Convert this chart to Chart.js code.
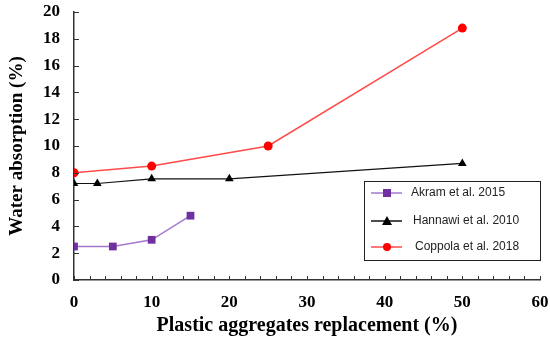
<!DOCTYPE html>
<html>
<head>
<meta charset="utf-8">
<script src="https://cdn.jsdelivr.net/npm/chart.js@4"></script>
<style>
  html, body { margin: 0; padding: 0; background: #fff; }
  #wrap { width: 550px; height: 342px; position: relative; }
</style>
</head>
<body>
<div id="wrap"><canvas id="chart"></canvas></div>
<script>
// Data
const akramX = [0, 5, 10, 15];
const akramY = [2.5, 2.5, 3.0, 4.8];
const hannawiX = [0, 3, 10, 20, 50];
const hannawiY = [7.2, 7.2, 7.55, 7.55, 8.7];
const coppolaX = [0, 10, 25, 50];
const coppolaY = [8.0, 8.5, 10.0, 18.8];
const seriesNames = ['Akram et al. 2015', 'Hannawi et al. 2010', 'Coppola et al. 2018'];

const toPoints = (xs, ys) => xs.map((x, i) => ({ x: x, y: ys[i] }));
const serif = '"Liberation Serif", "Times New Roman", serif';

// inside tick marks on both axes
const insideTicks = {
    id: 'insideTicks',
    afterDraw(chart) {
        const ctx = chart.ctx;
        const xs = chart.scales.x, ys = chart.scales.y;
        const area = chart.chartArea;
        ctx.save();
        ctx.strokeStyle = '#333';
        ctx.lineWidth = 1;
        for (let v = 0; v <= 60; v += 2) {
            const px = Math.round(xs.getPixelForValue(v)) + 0.5;
            ctx.beginPath();
            ctx.moveTo(px, area.bottom);
            ctx.lineTo(px, area.bottom - 4);
            ctx.stroke();
        }
        for (let v = 0; v <= 20; v += 2) {
            const py = Math.round(ys.getPixelForValue(v)) + 0.5;
            ctx.beginPath();
            ctx.moveTo(area.left, py);
            ctx.lineTo(area.left + 5, py);
            ctx.stroke();
        }
        ctx.restore();
    }
};

// boxed legend in the lower right of the plot
const boxLegend = {
    id: 'boxLegend',
    afterDraw(chart) {
        const ctx = chart.ctx;
        const left = 364, top = 181, w = 176, h = 79;
        ctx.save();
        ctx.fillStyle = '#fff';
        ctx.fillRect(left, top, w, h);
        ctx.strokeStyle = '#222';
        ctx.lineWidth = 1;
        ctx.strokeRect(left + 0.5, top + 0.5, w, h);
        const rows = [193, 221, 247];
        chart.data.datasets.forEach((ds, i) => {
            const y = rows[i];
            ctx.strokeStyle = ds.borderColor;
            ctx.lineWidth = 1.5;
            ctx.beginPath();
            ctx.moveTo(371, y);
            ctx.lineTo(402, y);
            ctx.stroke();
            ctx.fillStyle = ds.pointBackgroundColor;
            const cx = 387;
            ctx.beginPath();
            if (ds.pointStyle === 'rect') {
                ctx.rect(cx - 4, y - 4, 8, 8);
            } else if (ds.pointStyle === 'triangle') {
                ctx.moveTo(cx, y - 5);
                ctx.lineTo(cx + 5, y + 4);
                ctx.lineTo(cx - 5, y + 4);
                ctx.closePath();
            } else {
                ctx.arc(cx, y, 4, 0, Math.PI * 2);
            }
            ctx.fill();
            ctx.fillStyle = '#222';
            ctx.font = '12px "Liberation Sans", Arial, sans-serif';
            ctx.textBaseline = 'middle';
            ctx.fillText(ds.label, 411 + i * 2, y);
        });
        ctx.restore();
    }
};

new Chart(document.getElementById('chart'), {
    type: 'line',
    data: {
        datasets: [{
            label: seriesNames[0],
            data: toPoints(akramX, akramY),
            borderColor: '#a578d0',
            borderWidth: 1.5,
            pointStyle: 'rect',
            pointRadius: 5.5,
            pointBackgroundColor: '#7030a0',
            pointBorderColor: '#7030a0',
            pointBorderWidth: 0
        }, {
            label: seriesNames[1],
            data: toPoints(hannawiX, hannawiY),
            borderColor: '#111',
            borderWidth: 1.2,
            pointStyle: 'triangle',
            pointRadius: 5,
            pointBackgroundColor: '#000',
            pointBorderColor: '#000',
            pointBorderWidth: 0
        }, {
            label: seriesNames[2],
            data: toPoints(coppolaX, coppolaY),
            borderColor: '#ff4a4a',
            borderWidth: 1.5,
            pointStyle: 'circle',
            pointRadius: 4.5,
            pointBackgroundColor: '#ff0000',
            pointBorderColor: '#ff0000',
            pointBorderWidth: 0
        }]
    },
    options: {
        responsive: true,
        maintainAspectRatio: false,
        animation: false,
        layout: { padding: { top: 12, right: 10, left: 0, bottom: 0 } },
        plugins: {
            legend: { display: false },
            tooltip: { enabled: false }
        },
        scales: {
            x: {
                type: 'linear',
                min: 0,
                max: 60,
                afterFit: s => { s.height = 62; s.paddingLeft = 0; s.paddingRight = 0; },
                border: { color: '#333', width: 1.5 },
                grid: { display: false, drawTicks: false },
                ticks: {
                    stepSize: 10,
                    padding: 12,
                    color: '#000',
                    font: { family: serif, size: 17, weight: 'bold' }
                },
                title: {
                    display: true,
                    text: 'Plastic aggregates replacement (%)',
                    color: '#000',
                    padding: { top: 6, bottom: 4 },
                    font: { family: serif, size: 20, weight: 'bold' }
                }
            },
            y: {
                min: 0,
                max: 20,
                afterFit: s => { s.width = 74; s.paddingTop = 0; s.paddingBottom = 0; },
                border: { color: '#333', width: 1.5 },
                grid: { display: false, drawTicks: false },
                ticks: {
                    stepSize: 2,
                    padding: 14,
                    color: '#000',
                    font: { family: serif, size: 17, weight: 'bold' }
                },
                title: {
                    display: true,
                    text: 'Water absorption (%)',
                    color: '#000',
                    padding: { top: 6, bottom: 2 },
                    font: { family: serif, size: 19, weight: 'bold' }
                }
            }
        }
    },
    plugins: [insideTicks, boxLegend]
});
</script>
</body>
</html>
